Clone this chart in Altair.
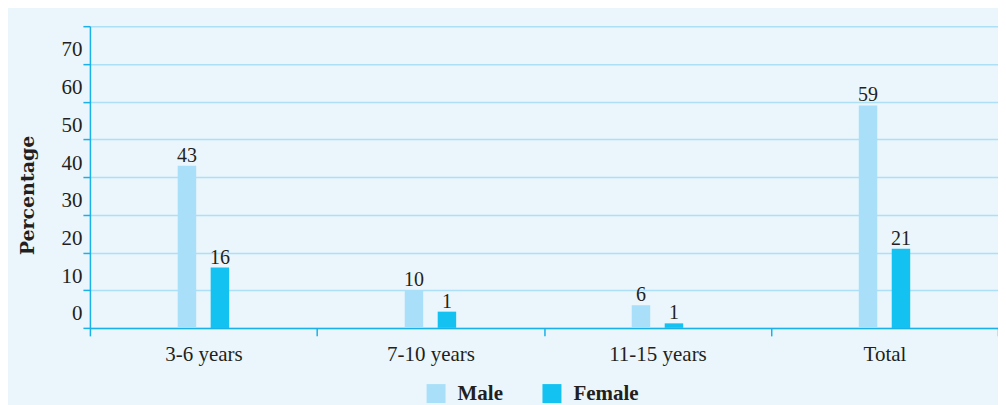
import altair as alt
import pandas as pd

categories = ["3-6 years", "7-10 years", "11-15 years", "Total"]
male = [43, 10, 6, 59]
male_labels = ["43", "10", "6", "59"]
# bar heights as drawn in the picture (the printed labels differ for two small bars)
female = [16, 4.3, 1.2, 21]
female_labels = ["16", "1", "1", "21"]
series = ["Male", "Female"]
colors = ["#aadff9", "#14c2f2"]
y_ticks = [0, 10, 20, 30, 40, 50, 60, 70, 80]

rows = []
for c, m, ml, f, fl in zip(categories, male, male_labels, female, female_labels):
    rows.append({"group": c, "sex": "Male", "value": m, "label": ml})
    rows.append({"group": c, "sex": "Female", "value": f, "label": fl})
df = pd.DataFrame(rows)

TEXT = "#231f20"
AXIS = "#19b1e8"
GRID = "#ade0f6"
SERIF = "Liberation Serif"

x_enc = alt.X(
    "group:N",
    sort=categories,
    scale=alt.Scale(paddingInner=0, paddingOuter=0),
    axis=alt.Axis(
        title=None,
        tickBand="extent",
        labelAngle=0,
        grid=False,
        domainColor=AXIS,
        domainWidth=1.5,
        tickColor=AXIS,
        tickWidth=1.5,
        tickSize=8,
        labelPadding=8,
        labelFont=SERIF,
        labelFontSize=21,
        labelColor=TEXT,
    ),
)

y_enc = alt.Y(
    "value:Q",
    scale=alt.Scale(domain=[0, 80], nice=False),
    axis=alt.Axis(
        values=y_ticks,
        labelExpr="datum.value == 80 ? '' : datum.label",
        title="Percentage",
        titleFont="DejaVu Serif",
        titleFontSize=19,
        titleFontWeight="bold",
        titleColor=TEXT,
        titleX=-62,
        titleY=169,
        titleAlign="center",
        titleBaseline="middle",
        domainColor=AXIS,
        domainWidth=1.5,
        tickColor=AXIS,
        tickWidth=1.5,
        tickSize=7,
        labelPadding=1,
        labelOffset=-14,
        labelFont=SERIF,
        labelFontSize=21,
        labelColor=TEXT,
        gridColor=GRID,
        gridWidth=1.5,
    ),
)

color_enc = alt.Color(
    "sex:N",
    scale=alt.Scale(domain=series, range=colors),
    legend=alt.Legend(
        title=None,
        orient="none",
        legendX=336,
        legendY=357,
        direction="horizontal",
        columns=2,
        symbolType="square",
        symbolSize=361,
        symbolStrokeWidth=0,
        symbolOpacity=1,
        labelFont=SERIF,
        labelFontSize=21,
        labelFontWeight="bold",
        labelColor=TEXT,
        labelOffset=11,
        columnPadding=38,
        padding=0,
    ),
)

base = alt.Chart(df)
layers = []
for s, off in zip(series, [-16.5, 16.5]):
    sub = base.transform_filter(alt.datum.sex == s)
    layers.append(
        sub.mark_bar(width=18.5, xOffset=off, opacity=1).encode(
            x=x_enc, y=y_enc, color=color_enc
        )
    )
    layers.append(
        sub.mark_text(
            xOffset=off,
            dy=-4,
            baseline="alphabetic",
            font=SERIF,
            fontSize=20,
            color=TEXT,
        ).encode(x=x_enc, y=y_enc, text="label:N")
    )

chart = (
    alt.layer(*layers)
    .properties(
        width=909,
        height=302,
        autosize="none",
        padding={"left": 82, "top": 18, "right": 0, "bottom": 77},
        background="#eaf6fc",
    )
    .configure_view(stroke=None)
)

chart.save("out.html", embed_options={"renderer": "svg", "actions": False})
